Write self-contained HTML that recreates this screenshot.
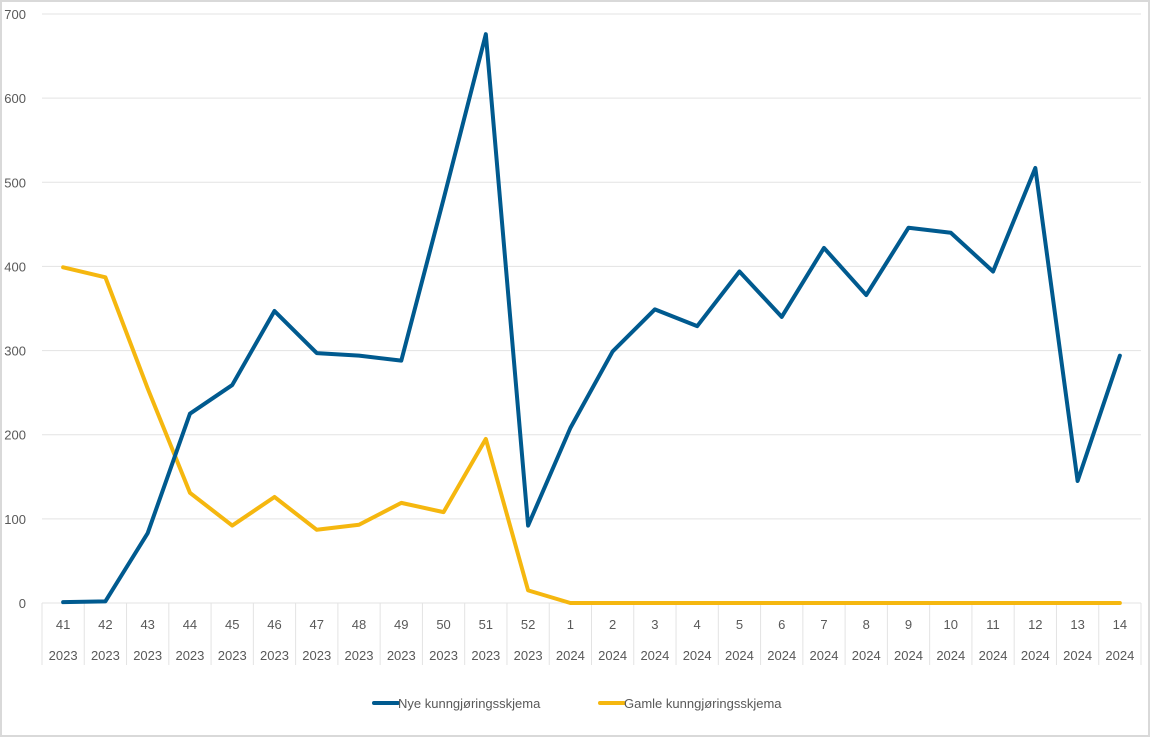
<!DOCTYPE html>
<html><head><meta charset="utf-8"><style>
html,body{margin:0;padding:0;background:#fff;}
svg{display:block;font-family:"Liberation Sans",sans-serif;}
</style></head><body>
<svg id="chart" width="1150" height="737" viewBox="0 0 1150 737" xmlns="http://www.w3.org/2000/svg">
<rect x="1" y="1" width="1148" height="735" fill="#fff" stroke="#d9d9d9" stroke-width="2"/>
<g id="grid"></g><g id="yticks"></g><g id="xaxis"></g><g id="series"></g>
<g>
<g><line x1="374" y1="703" x2="398" y2="703" stroke="#005a8f" stroke-width="4" stroke-linecap="round"/><text x="398" y="708" font-size="13" fill="#595959">Nye kunngjøringsskjema</text></g>
<g><line x1="600" y1="703" x2="624" y2="703" stroke="#f5b70f" stroke-width="4" stroke-linecap="round"/><text x="624" y="708" font-size="13" fill="#595959">Gamle kunngjøringsskjema</text></g>
</g>
</svg>
<script>
const weeks=["41","42","43","44","45","46","47","48","49","50","51","52","1","2","3","4","5","6","7","8","9","10","11","12","13","14"];
const years=["2023","2023","2023","2023","2023","2023","2023","2023","2023","2023","2023","2023","2024","2024","2024","2024","2024","2024","2024","2024","2024","2024","2024","2024","2024","2024"];
const nye=[1,2,83,225,259,347,297,294,288,480,676,92,208,299,349,329,394,340,422,366,446,440,394,517,145,294];
const gamle=[399,387,255,131,92,126,87,93,119,108,195,15,0,0,0,0,0,0,0,0,0,0,0,0,0,0];
const yTicks=[0,100,200,300,400,500,600,700];
const NS="http://www.w3.org/2000/svg";
const L=42,R=1141,Y0=603,Y700=14;
const bw=(R-L)/weeks.length;
const x=i=>L+bw*(i+0.5);
const y=v=>Y0-(Y0-Y700)*v/700;
function mk(t,a,p){const e=document.createElementNS(NS,t);for(const k in a)e.setAttribute(k,a[k]);p.appendChild(e);return e;}
const grid=document.getElementById('grid'),yt=document.getElementById('yticks'),xa=document.getElementById('xaxis'),se=document.getElementById('series');
yTicks.forEach(v=>{
 const g=mk('line',{x1:L,x2:R,y1:y(v),y2:y(v),stroke:'#e3e3e3','stroke-width':1},grid);
 
 
 const t=mk('text',{x:26,y:y(v)+5,'text-anchor':'end','font-size':13,fill:'#595959'},yt);
 t.textContent=v;
 
 
});
for(let i=0;i<=weeks.length;i++){
 const l=mk('line',{x1:L+bw*i,x2:L+bw*i,y1:Y0,y2:665,stroke:'#e3e3e3','stroke-width':1},xa);
 
 
}
weeks.forEach((w,i)=>{
 const t=mk('text',{x:x(i),y:629,'text-anchor':'middle','font-size':13,fill:'#595959'},xa);
 t.textContent=w;
 
 
 const t2=mk('text',{x:x(i),y:660,'text-anchor':'middle','font-size':13,fill:'#595959'},xa);
 t2.textContent=years[i];
 
 
});
function line(d,c,n){
 const p=mk('polyline',{points:d.map((v,i)=>x(i)+','+y(v)).join(' '),fill:'none',stroke:c,'stroke-width':4,'stroke-linejoin':'round','stroke-linecap':'round'},se);
 
 
}
line(gamle,'#f5b70f','series-gamle');
line(nye,'#005a8f','series-nye');
</script>
</body></html>
